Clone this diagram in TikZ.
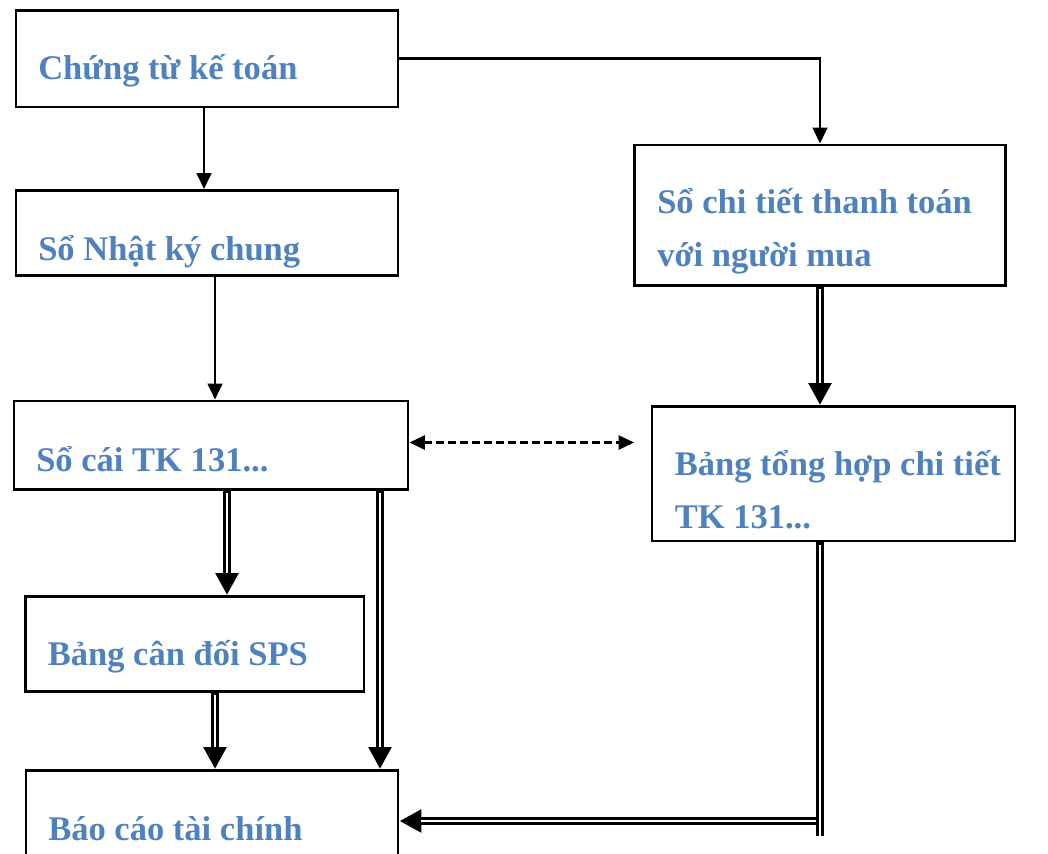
\documentclass[tikz,border=0pt]{standalone}
\usepackage{fontspec}
\setmainfont{Liberation Serif}
\usetikzlibrary{arrows.meta,fit}
\definecolor{txtblue}{RGB}{79,129,189}
\tikzset{
  box/.style={draw=black, line width=2.2pt, inner sep=0pt, rectangle},
  lbl/.style={anchor=base west, inner sep=0pt, text=txtblue, font=\fontsize{25.9pt}{39.75pt}\selectfont\bfseries},
  sarrow/.style={line width=2pt, -{Triangle[length=12pt,width=11pt]}},
  darrow/.style={line width=1.9pt, dash pattern=on 5.5pt off 3.5pt, {Triangle[length=11.5pt,width=10.5pt]}-{Triangle[length=11.5pt,width=10.5pt]}},
  dblo/.style={line width=6.3pt, -{Triangle[length=16.5pt,width=16.5pt]}},
  dbli/.style={white, line width=2pt, shorten >=16.5pt, shorten <=1.6pt},
  dbloplain/.style={line width=6.3pt},
  dbliplain/.style={white, line width=2pt, shorten <=1.6pt}
}
\begin{document}
\begin{tikzpicture}[x=0.75pt,y=-0.75pt]
\useasboundingbox (0,0) rectangle (1048,853);
\clip (0,0) rectangle (1048,853);
% boxes
\node[box, fit={(16,10.5) (398,107)}] (b1) {};
\node[box, fit={(16,190.5) (398,275.5)}] (b2) {};
\node[box, fit={(14,401) (408,489.5)}] (b3) {};
\node[box, fit={(25.5,596.5) (364,691.5)}] (b4) {};
\node[box, fit={(26,770.5) (398,900)}] (b5) {};
\node[box, fit={(634.5,145) (1005.5,285.5)}] (b6) {};
\node[box, fit={(652,406.5) (1015,541)}] (b7) {};
% labels
\node[lbl] (t1) at (38,79.5) {Chứng từ kế toán};
\node[lbl] (t2) at (38,260) {Sổ Nhật ký chung};
\node[lbl] (t3) at (36,471) {Sổ cái TK 131...};
\node[lbl] (t4) at (47.5,665) {Bảng cân đối SPS};
\node[lbl] (t5) at (48,840) {Báo cáo tài chính};
\node[lbl] (t6a) at (657,213.5) {Sổ chi tiết thanh toán};
\node[lbl] (t6b) at (657,266.5) {với người mua};
\node[lbl] (t7a) at (674.5,475) {Bảng tổng hợp chi tiết};
\node[lbl] (t7b) at (674.5,528.3) {TK 131...};
% helper coordinates
\coordinate (c204) at (204,0);
\coordinate (c215) at (215,0);
\coordinate (c227) at (227,0);
\coordinate (c380) at (380,0);
\coordinate (c820) at (820,0);
\coordinate (dR) at (634,442.5);
\coordinate (hR) at (818,821);
\coordinate (vEnd) at (820,836);
% single arrows
\draw[sarrow] (b1.east) -| (b6.north);
\draw[sarrow] (b1.south -| c204) -- (b2.north -| c204);
\draw[sarrow] (b2.south -| c215) -- (b3.north -| c215);
% dashed double-headed
\draw[darrow] (b3.east |- dR) -- (dR);
% double arrows
\draw[dblo] (b6.south) -- (b7.north -| b6.south);
\draw[dbli] (b6.south) -- (b7.north -| b6.south);
\draw[dblo] (b3.south -| c227) -- (b4.north -| c227);
\draw[dbli] (b3.south -| c227) -- (b4.north -| c227);
\draw[dblo] (b3.south -| c380) -- (b5.north -| c380);
\draw[dbli] (b3.south -| c380) -- (b5.north -| c380);
\draw[dblo] (b4.south -| c215) -- (b5.north -| c215);
\draw[dbli] (b4.south -| c215) -- (b5.north -| c215);
% from b7 down and left to b5
\draw[dblo] (hR) -- (b5.east |- hR);
\draw[dbli] (hR) -- (b5.east |- hR);
\draw[dbloplain] (b7.south -| c820) -- (vEnd);
\draw[dbliplain] (b7.south -| c820) -- (vEnd);
\end{tikzpicture}
\end{document}
